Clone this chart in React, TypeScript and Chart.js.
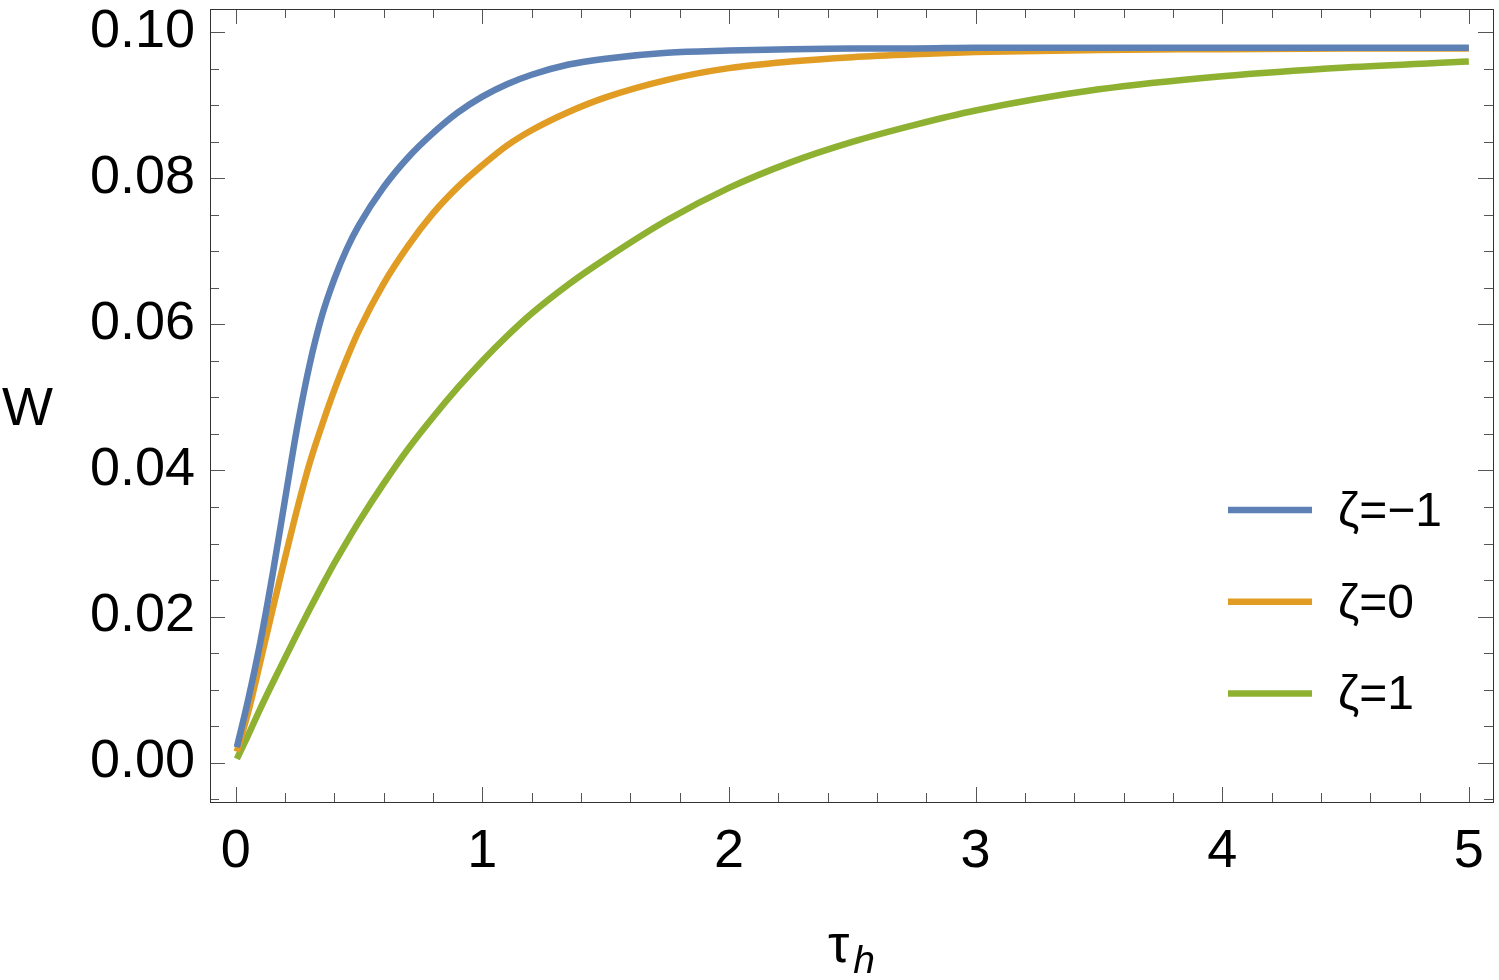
import React, { useEffect, useRef } from "react";
import { Chart, registerables } from "chart.js";

Chart.register(...registerables);

// ---- data ----
const tauValues = [0.005, 0.05, 0.1, 0.15, 0.2, 0.25, 0.3, 0.35, 0.4, 0.45, 0.5, 0.6, 0.7, 0.8, 0.9, 1.0, 1.1, 1.2, 1.35, 1.5, 1.75, 2.0, 2.25, 2.5, 2.75, 3.0, 3.5, 4.0, 4.5, 5.0];
const wZetaMinus1 = [0.0021, 0.0085, 0.0165, 0.0258, 0.036, 0.046, 0.0545, 0.0612, 0.0662, 0.0703, 0.0736, 0.0788, 0.0829, 0.0862, 0.089, 0.0912, 0.0929, 0.0942, 0.0956, 0.0964, 0.0972, 0.0975, 0.0977, 0.0978, 0.0978, 0.0979, 0.0979, 0.0979, 0.0979, 0.0979];
const wZeta0 = [0.0015, 0.0068, 0.0138, 0.021, 0.028, 0.0348, 0.041, 0.0462, 0.051, 0.0553, 0.0592, 0.0656, 0.0708, 0.0752, 0.0788, 0.0818, 0.0845, 0.0866, 0.0891, 0.0911, 0.0935, 0.0951, 0.096, 0.0966, 0.097, 0.0973, 0.0976, 0.0977, 0.0978, 0.0978];
const wZeta1 = [0.0005, 0.0037, 0.0074, 0.0109, 0.0143, 0.0177, 0.021, 0.0242, 0.0273, 0.0302, 0.033, 0.0382, 0.043, 0.0473, 0.0513, 0.055, 0.0584, 0.0615, 0.0655, 0.069, 0.0743, 0.0787, 0.0822, 0.085, 0.0873, 0.0893, 0.0922, 0.094, 0.0952, 0.096];

const seriesLabels = ["ζ=\u22121", "ζ=0", "ζ=1"];
const seriesColors = ["#5E81B5", "#E19C24", "#8FB131"];

const xTickValues = [0, 1, 2, 3, 4, 5];
const xTickLabels = ["0", "1", "2", "3", "4", "5"];
const yTickValues = [0, 0.02, 0.04, 0.06, 0.08, 0.1];
const yTickLabels = ["0.00", "0.02", "0.04", "0.06", "0.08", "0.10"];
const xMinorStep = 0.2;
const yMinorStep = 0.005;
const xRange = [-0.104, 5.098];
const yRange = [-0.0054, 0.1032];

const xTitle = "τ";
const xTitleSub = "h";
const yTitle = "W";

const FONT = "'Liberation Sans', Arial, sans-serif";
const TICK_FONT_SIZE = 54;
const LEGEND_FONT_SIZE = 48;

const framePlugin = {
  id: "mmaFrame",
  beforeDatasetsDraw(chart: any) {
    const { ctx, chartArea: a, scales } = chart;
    const xs = scales.x;
    const ys = scales.y;
    ctx.save();
    ctx.lineWidth = 1;
    ctx.strokeStyle = "#555";
    const px = (v: number) => Math.round(xs.getPixelForValue(v)) + 0.5;
    const py = (v: number) => Math.round(ys.getPixelForValue(v)) + 0.5;
    const majorLen = 15;
    const minorLen = 9;
    ctx.beginPath();
    const nx = Math.round((xRange[1] - 0) / xMinorStep);
    for (let i = 0; i <= nx; i++) {
      const v = Math.round(i * xMinorStep * 1000) / 1000;
      if (v > xRange[1]) break;
      const isMajor = xTickValues.some((t) => Math.abs(t - v) < 1e-9);
      const len = isMajor ? majorLen : minorLen;
      const p = px(v);
      ctx.moveTo(p, a.bottom);
      ctx.lineTo(p, a.bottom - len);
      ctx.moveTo(p, a.top);
      ctx.lineTo(p, a.top + len);
    }
    const nyStart = Math.ceil(yRange[0] / yMinorStep);
    const nyEnd = Math.floor(yRange[1] / yMinorStep);
    for (let i = nyStart; i <= nyEnd; i++) {
      const v = Math.round(i * yMinorStep * 100000) / 100000;
      const isMajor = yTickValues.some((t) => Math.abs(t - v) < 1e-9);
      const len = isMajor ? majorLen : minorLen;
      const p = py(v);
      ctx.moveTo(a.left, p);
      ctx.lineTo(a.left + len, p);
      ctx.moveTo(a.right, p);
      ctx.lineTo(a.right - len, p);
    }
    ctx.stroke();
    ctx.strokeStyle = "#333";
    ctx.strokeRect(Math.round(a.left) + 0.5, Math.round(a.top) + 0.5, Math.round(a.right - a.left), Math.round(a.bottom - a.top));
    ctx.restore();
  },
  afterDraw(chart: any) {
    const { ctx } = chart;
    ctx.save();
    ctx.fillStyle = "#000";
    ctx.textBaseline = "alphabetic";
    ctx.textAlign = "left";
    ctx.font = `${TICK_FONT_SIZE}px ${FONT}`;
    ctx.fillText(yTitle, 2, 425);
    ctx.fillText(xTitle, 828, 962);
    const tw = ctx.measureText(xTitle).width;
    ctx.font = `italic ${Math.round(TICK_FONT_SIZE * 0.72)}px ${FONT}`;
    ctx.fillText(xTitleSub, 828 + tw + 4, 973);
    const ds = chart.data.datasets;
    ctx.font = `${LEGEND_FONT_SIZE}px ${FONT}`;
    for (let i = 0; i < ds.length; i++) {
      const ly = 510 + i * 91.7;
      ctx.strokeStyle = ds[i].borderColor;
      ctx.lineWidth = 6.5;
      ctx.lineCap = "butt";
      ctx.beginPath();
      ctx.moveTo(1228, ly);
      ctx.lineTo(1312, ly);
      ctx.stroke();
      ctx.fillText(ds[i].label, 1338, ly + 16);
    }
    ctx.restore();
  },
};

export default function App() {
  const canvasRef = useRef<HTMLCanvasElement | null>(null);

  useEffect(() => {
    const canvas = canvasRef.current;
    if (!canvas) return;
    const makeSeries = (vals: number[]) => tauValues.map((t, i) => ({ x: t, y: vals[i] }));
    const allSeries = [wZetaMinus1, wZeta0, wZeta1];
    const chart = new Chart(canvas, {
      type: "line",
      data: {
        datasets: allSeries.map((vals, i) => ({
          label: seriesLabels[i],
          data: makeSeries(vals),
          borderColor: seriesColors[i],
          backgroundColor: seriesColors[i],
          borderWidth: 6.5,
          pointRadius: 0,
          fill: false,
          cubicInterpolationMode: "monotone" as const,
          borderCapStyle: "butt" as const,
          borderJoinStyle: "round" as const,
        })),
      },
      options: {
        responsive: false,
        devicePixelRatio: 1,
        animation: false,
        layout: { padding: { left: 0, right: 6, top: 9, bottom: 0 } },
        plugins: {
          legend: { display: false },
          tooltip: { enabled: false },
          title: { display: false },
        },
        scales: {
          x: {
            type: "linear",
            min: xRange[0],
            max: xRange[1],
            grid: { display: false, drawTicks: false },
            border: { display: false },
            afterBuildTicks: (scale: any) => {
              scale.ticks = xTickValues.map((v) => ({ value: v }));
            },
            afterFit: (scale: any) => {
              scale.height = 178;
              scale.paddingLeft = 0;
              scale.paddingRight = 0;
            },
            ticks: {
              autoSkip: false,
              maxRotation: 0,
              padding: 18,
              color: "#000",
              font: { family: FONT, size: TICK_FONT_SIZE },
              callback: (v: any) => {
                const idx = xTickValues.findIndex((t) => Math.abs(t - Number(v)) < 1e-9);
                return idx >= 0 ? xTickLabels[idx] : "";
              },
            },
          },
          y: {
            type: "linear",
            min: yRange[0],
            max: yRange[1],
            grid: { display: false, drawTicks: false },
            border: { display: false },
            afterBuildTicks: (scale: any) => {
              scale.ticks = yTickValues.map((v) => ({ value: v }));
            },
            afterFit: (scale: any) => {
              scale.width = 210;
              scale.paddingTop = 0;
              scale.paddingBottom = 0;
            },
            ticks: {
              autoSkip: false,
              padding: 15,
              color: "#000",
              font: { family: FONT, size: TICK_FONT_SIZE },
              callback: (v: any) => {
                const idx = yTickValues.findIndex((t) => Math.abs(t - Number(v)) < 1e-9);
                return idx >= 0 ? yTickLabels[idx] : "";
              },
            },
          },
        },
      },
      plugins: [framePlugin],
    } as any);
    return () => chart.destroy();
  }, []);

  return (
    <div style={{ position: "absolute", left: 0, top: 0, width: 1499, height: 980, background: "#fff" }}>
      <canvas ref={canvasRef} width={1499} height={980} style={{ display: "block" }} />
    </div>
  );
}
